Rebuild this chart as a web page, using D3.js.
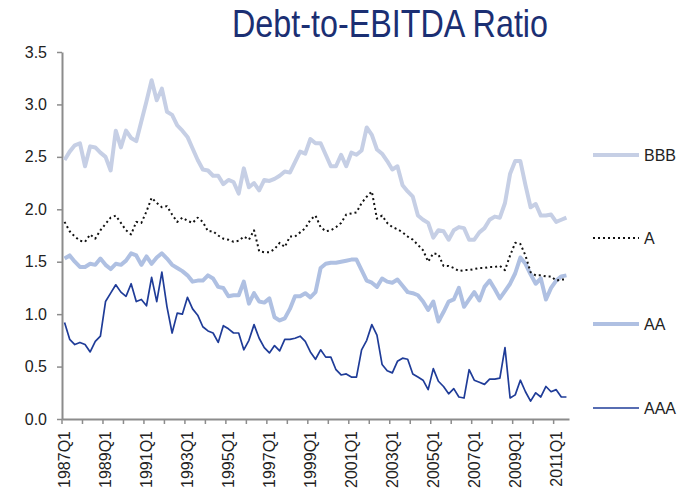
<!DOCTYPE html>
<html lang="en">
<head>
<meta charset="UTF-8">
<title>Debt-to-EBITDA Ratio</title>
<script src="https://d3js.org/d3.v7.min.js"></script>
<style>
  body { margin: 0; background: #fff; }
  text { font-family: "Liberation Sans", Arial, sans-serif; }
</style>
</head>
<body>
<div id="chart"></div>
<script>
// quarters 1987Q1 .. 2011Q3
const quarters = [];
for (let yr = 1987; yr <= 2011; yr++) {
  for (let q = 1; q <= 4; q++) {
    if (yr === 2011 && q > 3) break;
    quarters.push(yr + "Q" + q);
  }
}
const xLabels = ["1987Q1","1989Q1","1991Q1","1993Q1","1995Q1","1997Q1","1999Q1",
                 "2001Q1","2003Q1","2005Q1","2007Q1","2009Q1","2011Q1"];
const yTicks = [0, 0.5, 1, 1.5, 2, 2.5, 3, 3.5];

const bbb = [2.47,2.55,2.61,2.63,2.41,2.60,2.59,2.54,2.50,2.37,
             2.75,2.59,2.75,2.68,2.65,2.84,3.03,3.23,3.04,3.15,
             2.93,2.90,2.80,2.75,2.69,2.58,2.47,2.38,2.37,2.32,
             2.32,2.24,2.28,2.26,2.15,2.39,2.21,2.25,2.18,2.28,
             2.27,2.29,2.32,2.36,2.35,2.45,2.55,2.53,2.67,2.63,
             2.63,2.52,2.41,2.41,2.52,2.41,2.54,2.52,2.56,2.78,
             2.71,2.57,2.53,2.46,2.38,2.41,2.23,2.17,2.12,1.94,
             1.90,1.87,1.73,1.80,1.79,1.71,1.80,1.83,1.82,1.71,
             1.71,1.78,1.82,1.90,1.93,1.92,2.06,2.34,2.46,2.46,
             2.23,2.02,2.05,1.94,1.94,1.95,1.88,1.90,1.92];
const a   = [1.88,1.79,1.74,1.70,1.69,1.76,1.72,1.80,1.86,1.92,
             1.94,1.87,1.80,1.76,1.88,1.87,1.98,2.11,2.06,2.02,
             2.03,1.95,1.88,1.92,1.89,1.87,1.92,1.88,1.79,1.79,
             1.75,1.72,1.71,1.69,1.70,1.74,1.71,1.80,1.60,1.59,
             1.59,1.62,1.68,1.64,1.74,1.74,1.78,1.82,1.90,1.94,
             1.83,1.79,1.80,1.83,1.87,1.95,1.96,1.97,2.06,2.12,
             2.17,1.91,1.94,1.87,1.83,1.81,1.78,1.74,1.71,1.66,
             1.61,1.50,1.58,1.57,1.46,1.46,1.44,1.41,1.42,1.42,
             1.43,1.44,1.44,1.45,1.45,1.46,1.42,1.56,1.68,1.67,
             1.56,1.40,1.37,1.37,1.36,1.36,1.32,1.33,1.33];
const aa  = [1.53,1.56,1.50,1.45,1.45,1.48,1.47,1.53,1.47,1.43,
             1.48,1.47,1.51,1.58,1.56,1.47,1.55,1.48,1.54,1.58,
             1.53,1.47,1.44,1.41,1.37,1.31,1.32,1.32,1.37,1.34,
             1.26,1.25,1.17,1.18,1.18,1.31,1.10,1.20,1.12,1.11,
             1.15,0.97,0.94,0.96,1.05,1.17,1.17,1.20,1.16,1.21,
             1.44,1.48,1.49,1.49,1.50,1.51,1.52,1.52,1.42,1.32,
             1.30,1.26,1.34,1.31,1.30,1.33,1.27,1.21,1.20,1.18,
             1.12,1.04,1.12,0.93,1.02,1.12,1.14,1.25,1.07,1.14,
             1.21,1.13,1.26,1.32,1.24,1.15,1.22,1.29,1.39,1.54,
             1.48,1.38,1.29,1.34,1.14,1.25,1.32,1.36,1.37];
const aaa = [0.92,0.76,0.71,0.73,0.71,0.64,0.74,0.79,1.12,1.20,
             1.28,1.21,1.17,1.29,1.12,1.14,1.08,1.35,1.12,1.40,
             1.07,0.82,1.01,1.00,1.16,1.05,0.99,0.88,0.84,0.82,
             0.73,0.89,0.86,0.82,0.82,0.66,0.75,0.90,0.77,0.68,
             0.63,0.70,0.65,0.76,0.76,0.77,0.79,0.74,0.64,0.57,
             0.66,0.59,0.59,0.47,0.42,0.43,0.40,0.40,0.66,0.75,
             0.90,0.80,0.52,0.46,0.44,0.55,0.58,0.57,0.43,0.40,
             0.37,0.28,0.48,0.36,0.31,0.24,0.29,0.21,0.20,0.47,
             0.37,0.35,0.33,0.38,0.38,0.39,0.68,0.20,0.23,0.37,
             0.26,0.17,0.25,0.21,0.31,0.26,0.28,0.21,0.21];

const w = 685, h = 499;
const svg = d3.select("#chart").append("svg")
  .attr("width", w).attr("height", h);

const x = d3.scaleBand().domain(quarters).range([62, 569]);
const y = d3.scaleLinear().domain([0, 3.5]).range([419, 52]);
const axisColor = "#8c8c8c";

// title (narrow face squeezed to the reference width)
svg.append("text")
  .attr("x", 390).attr("y", 37)
  .attr("text-anchor", "middle")
  .attr("textLength", 316).attr("lengthAdjust", "spacingAndGlyphs")
  .style("font-size", "39px")
  .style("fill", "#1b2f73")
  .text("Debt-to-EBITDA Ratio");

// y axis
const yAxis = svg.append("g")
  .attr("transform", "translate(62,0)")
  .call(d3.axisLeft(y).tickValues(yTicks).tickFormat(d3.format(".1f"))
    .tickSize(5).tickSizeOuter(0).tickPadding(10));
yAxis.select(".domain").attr("stroke", axisColor).attr("stroke-width", 2);
yAxis.selectAll(".tick line").attr("stroke", axisColor).attr("stroke-width", 1.5);
yAxis.selectAll("text").style("font-size", "16px").attr("fill", "#222");

// x axis: labels every 2 years, ticks every year at band edges
const xAxis = svg.append("g")
  .attr("transform", "translate(0,419)")
  .call(d3.axisBottom(x).tickValues(xLabels).tickSize(0).tickSizeOuter(0));
xAxis.select(".domain").attr("stroke", axisColor).attr("stroke-width", 2);
xAxis.selectAll("text")
  .attr("transform", "rotate(-90)")
  .attr("text-anchor", "end")
  .attr("x", -12).attr("y", 0).attr("dy", "0.35em")
  .style("font-size", "16px").attr("fill", "#222");

svg.append("g").selectAll("line")
  .data(quarters.filter((q, i) => i % 4 === 0))
  .enter().append("line")
  .attr("x1", d => x(d)).attr("x2", d => x(d))
  .attr("y1", 419).attr("y2", 424)
  .attr("stroke", axisColor).attr("stroke-width", 1.5);

// series
const line = d3.line()
  .x((d, i) => x(quarters[i]) + x.bandwidth() / 2)
  .y(d => y(d));

const series = [
  { name: "BBB", values: bbb, color: "#c6cfe5", width: 4, dash: null, ly: 155 },
  { name: "AA", values: aa, color: "#afc0e2", width: 4, dash: null, ly: 324 },
  { name: "A", values: a, color: "#111", width: 2, dash: "2,3", ly: 238 },
  { name: "AAA", values: aaa, color: "#1f3c98", width: 1.7, dash: null, ly: 408 }
];

series.forEach(s => {
  svg.append("path")
    .datum(s.values)
    .attr("d", line)
    .attr("fill", "none")
    .attr("stroke", s.color)
    .attr("stroke-width", s.width)
    .attr("stroke-linejoin", "round")
    .attr("stroke-dasharray", s.dash);

  svg.append("line")
    .attr("x1", 593).attr("x2", 639)
    .attr("y1", s.ly).attr("y2", s.ly)
    .attr("stroke", s.color)
    .attr("stroke-width", s.dash ? 2 : s.width)
    .attr("stroke-dasharray", s.dash);
  svg.append("text")
    .attr("x", 644).attr("y", s.ly).attr("dy", "0.35em")
    .style("font-size", "16px").attr("fill", "#222")
    .text(s.name);
});
</script>
</body>
</html>
